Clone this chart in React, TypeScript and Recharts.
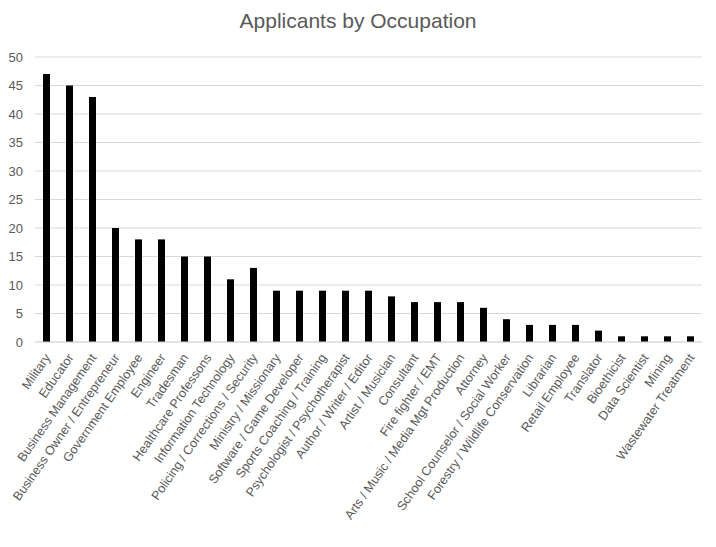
import { BarChart, Bar, XAxis, YAxis, CartesianGrid } from 'recharts'

const occupations = [
  'Military',
  'Educator',
  'Business Management',
  'Business Owner / Entrepreneur',
  'Government Employee',
  'Engineer',
  'Tradesman',
  'Healthcare Professons',
  'Information Technology',
  'Policing / Corrections / Security',
  'Ministry / Missionary',
  'Software / Game Developer',
  'Sports Coaching / Training',
  'Psychologist / Psychotherapist',
  'Author / Writer / Editor',
  'Artist / Musician',
  'Consultant',
  'Fire fighter / EMT',
  'Arts / Music / Media Mgt Production',
  'Attorney',
  'School Counselor / Social Worker',
  'Forestry / Wildlife Conservation',
  'Librarian',
  'Retail Employee',
  'Translator',
  'Bioethicist',
  'Data Scientist',
  'Mining',
  'Wastewater Treatment',
]

const applicants = [47, 45, 43, 20, 18, 18, 15, 15, 11, 13, 9, 9, 9, 9, 9, 8, 7, 7, 7, 6, 4, 3, 3, 3, 2, 1, 1, 1, 1]

const yTicks = [0, 5, 10, 15, 20, 25, 30, 35, 40, 45, 50]

const data = occupations.map((name, i) => ({ name, value: applicants[i] }))

const FONT = '"Liberation Sans", Arial, sans-serif'
const TEXT = '#595959'

function SlantedTick(props: any) {
  const { x, y, payload } = props
  return (
    <g transform={`translate(${x + 1},${y + 5}) rotate(-55)`}>
      <text x={0} y={0} dy="0.35em" textAnchor="end" fill={TEXT} fontSize={12.6} fontFamily={FONT}>
        {payload.value}
      </text>
    </g>
  )
}

export default function App() {
  return (
    <div style={{ position: 'relative', width: 716, height: 547, background: '#fff' }}>
      <style>{'body{margin:0}'}</style>
      <div
        style={{
          position: 'absolute',
          top: 9,
          left: 0,
          width: 716,
          textAlign: 'center',
          fontFamily: FONT,
          fontSize: 21,
          color: TEXT,
        }}
      >
        Applicants by Occupation
      </div>
      <BarChart width={716} height={547} data={data} margin={{ top: 57, right: 14, left: 0, bottom: 0 }}>
        <CartesianGrid vertical={false} stroke="#d9d9d9" />
        <XAxis
          dataKey="name"
          interval={0}
          tickLine={false}
          axisLine={{ stroke: '#d9d9d9' }}
          height={205}
          tick={<SlantedTick />}
        />
        <YAxis
          domain={[0, 50]}
          ticks={yTicks}
          width={35}
          axisLine={false}
          tickLine={false}
          tickMargin={6}
          tick={{ fill: TEXT, fontSize: 13, fontFamily: FONT }}
        />
        <Bar dataKey="value" fill="#000" barSize={7} isAnimationActive={false} />
      </BarChart>
    </div>
  )
}
